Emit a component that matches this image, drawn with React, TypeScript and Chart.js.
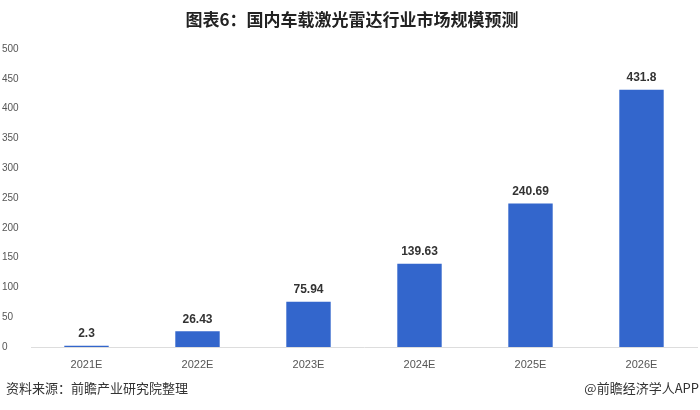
import React, { useEffect, useRef } from "react";
import { Chart, registerables } from "chart.js";

Chart.register(...registerables);

const categories = ["2021E", "2022E", "2023E", "2024E", "2025E", "2026E"];
const marketSize = [2.3, 26.43, 75.94, 139.63, 240.69, 431.8];
const valueLabels = ["2.3", "26.43", "75.94", "139.63", "240.69", "431.8"];

const titleText = "图表6：国内车载激光雷达行业市场规模预测";
const sourceText = "资料来源：前瞻产业研究院整理";
const brandText = "@前瞻经济学人APP";

const FONT = "'Liberation Sans', Arial, 'Noto Sans CJK SC', sans-serif";

const valueLabelPlugin = {
  id: "valueLabels",
  afterDatasetsDraw(chart: any) {
    const ctx = chart.ctx;
    const meta = chart.getDatasetMeta(0);
    ctx.save();
    ctx.font = `bold 12px ${FONT}`;
    ctx.fillStyle = "#333333";
    ctx.textAlign = "center";
    ctx.textBaseline = "middle";
    meta.data.forEach((bar: any, i: number) => {
      ctx.fillText(valueLabels[i], bar.x, bar.y - 12);
    });
    ctx.restore();
  },
};

export default function App() {
  const canvasRef = useRef<HTMLCanvasElement | null>(null);

  useEffect(() => {
    document.body.style.margin = "0";
    const canvas = canvasRef.current;
    if (!canvas) return;
    const chart = new Chart(canvas, {
      type: "bar",
      data: {
        labels: categories,
        datasets: [
          {
            data: marketSize,
            backgroundColor: "#3366cc",
            barPercentage: 0.8,
            categoryPercentage: 0.5,
          },
        ],
      },
      options: {
        animation: false,
        responsive: false,
        devicePixelRatio: 1,
        layout: { padding: { left: 2, right: 3, top: 49, bottom: 33 } },
        plugins: {
          legend: { display: false },
          title: { display: false },
          tooltip: { enabled: false },
        },
        scales: {
          x: {
            grid: { display: false, drawTicks: false },
            border: { display: true, color: "#dddddd", width: 1 },
            ticks: {
              color: "#555555",
              font: { size: 11, family: FONT },
              padding: 11,
            },
            afterFit(scale: any) {
              scale.height = 30;
            },
          },
          y: {
            min: 0,
            max: 500,
            grid: { display: false, drawTicks: false },
            border: { display: false },
            ticks: {
              stepSize: 50,
              color: "#555555",
              font: { size: 10, family: FONT },
              crossAlign: "far",
              padding: 4,
            },
            afterFit(scale: any) {
              scale.width = 29;
            },
          },
        },
      },
      plugins: [valueLabelPlugin],
    });
    return () => chart.destroy();
  }, []);

  return (
    <div
      style={{
        position: "relative",
        width: 700,
        height: 410,
        background: "#ffffff",
        overflow: "hidden",
      }}
    >
      <canvas
        ref={canvasRef}
        width={700}
        height={410}
        style={{ position: "absolute", left: 0, top: 0, width: 700, height: 410 }}
      />
      <div
        style={{
          position: "absolute",
          left: 0,
          top: 8,
          width: 704,
          textAlign: "center",
          fontFamily: "'Noto Sans CJK SC', sans-serif",
          fontWeight: "bold",
          fontSize: 17,
          lineHeight: "22px",
          color: "#222222",
        }}
      >
        {titleText}
      </div>
      <div
        style={{
          position: "absolute",
          left: 6,
          top: 379,
          fontFamily: "'Noto Sans CJK SC', sans-serif",
          fontSize: 13,
          lineHeight: "18px",
          color: "#333333",
        }}
      >
        {sourceText}
      </div>
      <div
        style={{
          position: "absolute",
          right: 1,
          top: 379,
          fontFamily: "'Noto Sans CJK SC', sans-serif",
          fontSize: 13,
          lineHeight: "18px",
          color: "#333333",
        }}
      >
        {brandText}
      </div>
    </div>
  );
}
